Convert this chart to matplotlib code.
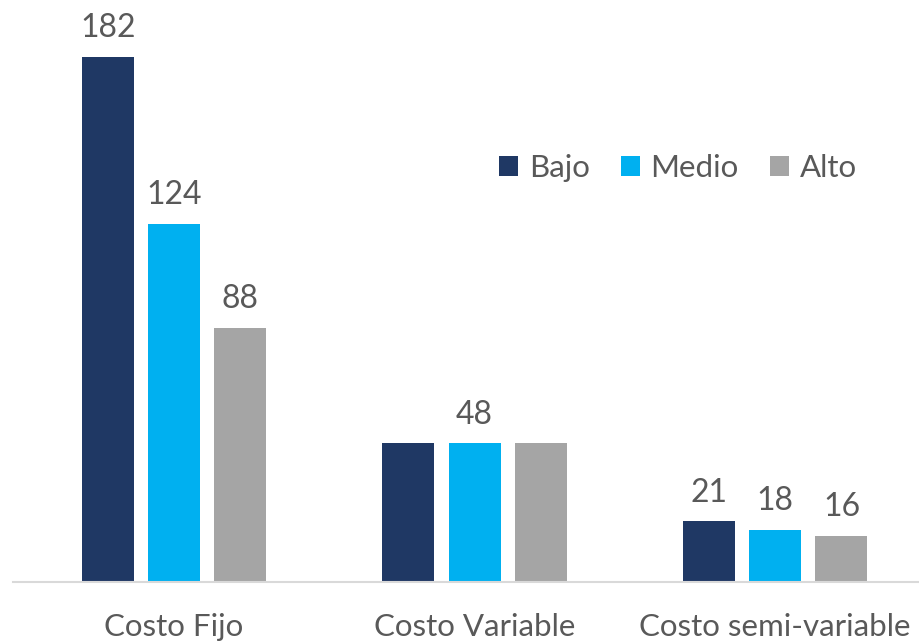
import matplotlib
matplotlib.use("Agg")
import matplotlib.pyplot as plt
import numpy as np

plt.rcParams['font.family'] = ['Lato', 'DejaVu Sans']

categorias = ["Costo Fijo", "Costo Variable", "Costo semi-variable"]
series = ["Bajo", "Medio", "Alto"]
bajo = [182, 48, 21]
medio = [124, 48, 18]
alto = [88, 48, 16]
# etiquetas visibles en el gráfico original (None = sin etiqueta)
etiquetas_bajo = ["182", None, "21"]
etiquetas_medio = ["124", "48", "18"]
etiquetas_alto = ["88", None, "16"]

colores = ["#1F3864", "#00B0F0", "#A5A5A5"]
texto = "#595959"

fig = plt.figure(figsize=(9.19, 6.42), dpi=100)
ax = fig.add_axes([13 / 919, 60 / 642, 906 / 919, 582 / 642])

x = np.arange(len(categorias))
ancho = 0.173
paso = 0.221
datos = [bajo, medio, alto]
etiquetas = [etiquetas_bajo, etiquetas_medio, etiquetas_alto]
for i, (vals, labs) in enumerate(zip(datos, etiquetas)):
    pos = x + (i - 1) * paso
    ax.bar(pos, vals, width=ancho, color=colores[i], label=series[i])
    for p, v, l in zip(pos, vals, labs):
        if l is not None:
            ax.annotate(l, (p, v), xytext=(0, 10), textcoords="offset points",
                        ha="center", va="bottom", fontsize=23, color=texto)

ax.set_xlim(-0.536, 2.479)
ax.set_ylim(0, 201.7)
ax.set_xticks(x)
ax.set_xticklabels(categorias, fontsize=22.5, color=texto)
ax.tick_params(axis="x", length=0, pad=22)
ax.set_yticks([])
for s in ["top", "right", "left"]:
    ax.spines[s].set_visible(False)
ax.spines["bottom"].set_color("#D9D9D9")
ax.spines["bottom"].set_linewidth(1.5)

leg = ax.legend(loc="center", bbox_to_anchor=(678 / 919, 1 - 168 / 642),
                bbox_transform=fig.transFigure, ncol=3, frameon=False,
                fontsize=22.5, handlelength=0.6, handleheight=0.6,
                handletextpad=0.35, columnspacing=1.0)
for t in leg.get_texts():
    t.set_color(texto)

fig.savefig("out.png", dpi=100)
